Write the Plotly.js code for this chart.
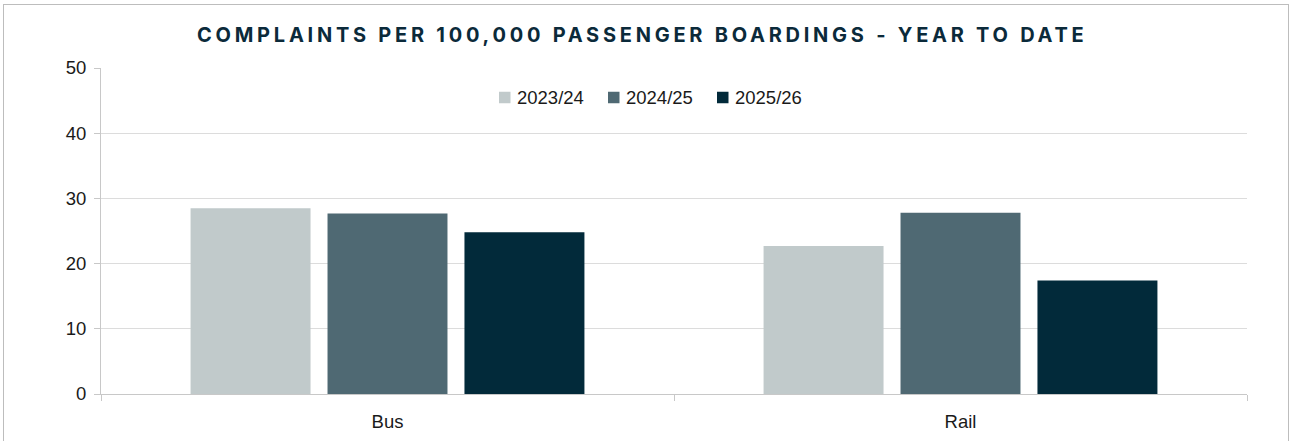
<!DOCTYPE html>
<html>
<head>
<meta charset="utf-8">
<script src="https://cdn.plot.ly/plotly-3.0.1.min.js"></script>
<style>
  html, body { margin: 0; padding: 0; background: #fff; }
  #chart { position: absolute; left: 0; top: 0; width: 1291px; height: 441px; }
  #frame { position: absolute; left: 3px; top: 4px; width: 1284px; height: 460px;
           border: 1.5px solid #bdbdbd; pointer-events: none; }
  #chart .gtitle { letter-spacing: 3.75px; }
</style>
</head>
<body>
<div id="chart"></div>
<div id="frame"></div>
<script>
const categories = ["Bus", "Rail"];
const seriesNames = ["2023/24", "2024/25", "2025/26"];
const values2023 = [28.5, 22.7];
const values2024 = [27.7, 27.8];
const values2025 = [24.8, 17.4];
const seriesColors = ["#c1cacb", "#4f6973", "#022a3a"];
const yTicks = [0, 10, 20, 30, 40, 50];

const allValues = [values2023, values2024, values2025];
const traces = seriesNames.map((name, i) => ({
  type: "bar",
  name: name,
  x: categories,
  y: allValues[i],
  marker: { color: seriesColors[i] },
  showlegend: false,
  hoverinfo: "x+y+name"
}));

// Custom compact legend (square + label), placed in paper coordinates
const plotL = 101, plotW = 1146, plotT = 68, plotH = 326;
const px = v => (v - plotL) / plotW;
const py = v => (plotT + plotH - v) / plotH;
const legendStart = 499, legendStep = 109, sq = 11.5, legendMid = 97.5;
const shapes = [];
const annotations = [];
seriesNames.forEach((name, i) => {
  const x0 = legendStart + i * legendStep;
  shapes.push({
    type: "rect", xref: "paper", yref: "paper",
    x0: px(x0), x1: px(x0 + sq),
    y0: py(legendMid + sq / 2), y1: py(legendMid - sq / 2),
    fillcolor: seriesColors[i], line: { width: 0 }
  });
  annotations.push({
    xref: "paper", yref: "paper",
    x: px(x0 + sq + 4), y: py(legendMid),
    xanchor: "left", yanchor: "middle",
    text: name, showarrow: false,
    font: { size: 18.5, color: "#1a1a1a" }
  });
});

const layout = {
  width: 1291,
  height: 441,
  margin: { l: plotL, r: 1291 - plotL - plotW, t: plotT, b: 441 - plotT - plotH },
  paper_bgcolor: "rgba(0,0,0,0)",
  plot_bgcolor: "#fff",
  barmode: "group",
  bargap: 0.283,
  bargroupgap: 0.124,
  showlegend: false,
  shapes: shapes,
  annotations: annotations,
  title: {
    text: "<b>COMPLAINTS PER 100,000 PASSENGER BOARDINGS - YEAR TO DATE</b>",
    font: { family: "Inter, 'Open Sans', sans-serif", size: 20, color: "#0b2a3a" },
    x: 0.4975, xanchor: "center",
    y: 0.92, yanchor: "middle"
  },
  font: { family: "'Liberation Sans', Arial, sans-serif", size: 18.5, color: "#1a1a1a" },
  xaxis: {
    type: "category",
    showline: true,
    linecolor: "#c8c8c8",
    linewidth: 1,
    ticks: "outside",
    tickson: "boundaries",
    ticklen: 6,
    tickcolor: "#c8c8c8",
    ticklabelstandoff: 11,
    showgrid: false,
    tickfont: { size: 18.5, color: "#1a1a1a" },
    fixedrange: true
  },
  yaxis: {
    range: [0, 50],
    tickvals: yTicks,
    showline: true,
    linecolor: "#c8c8c8",
    linewidth: 1,
    ticks: "outside",
    ticklen: 6,
    tickcolor: "#c8c8c8",
    ticklabelstandoff: 4,
    showgrid: true,
    gridcolor: "#dcdcdc",
    gridwidth: 1,
    zeroline: false,
    tickfont: { size: 18.5, color: "#1a1a1a" },
    fixedrange: true
  }
};

Plotly.newPlot("chart", traces, layout, { displayModeBar: false, staticPlot: true });
</script>
</body>
</html>
